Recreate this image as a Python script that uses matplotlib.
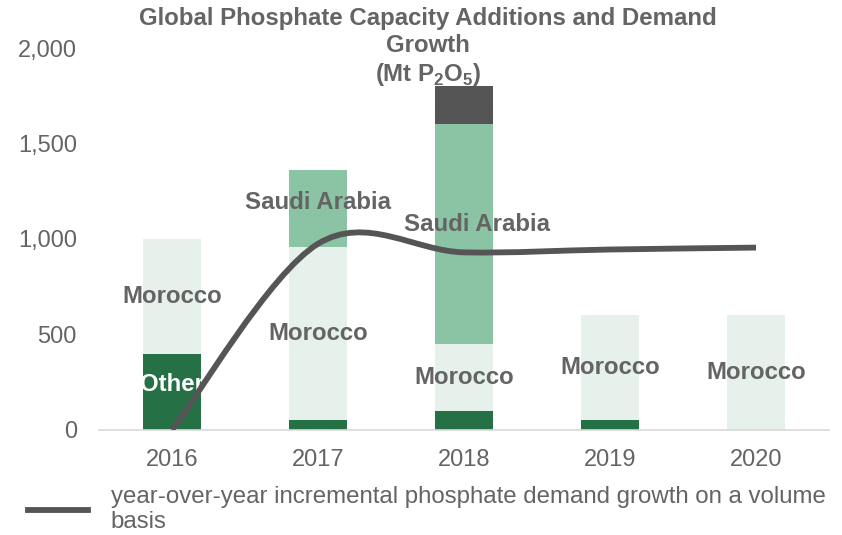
import numpy as np
import matplotlib
matplotlib.use('Agg')
import matplotlib.pyplot as plt
from matplotlib.path import Path
from matplotlib.patches import PathPatch
from matplotlib.lines import Line2D
from matplotlib.ticker import FuncFormatter

plt.rcParams['font.family'] = ['Liberation Sans', 'DejaVu Sans']
plt.rcParams['mathtext.fontset'] = 'custom'
plt.rcParams['mathtext.rm'] = 'Liberation Sans'
plt.rcParams['mathtext.bf'] = 'Liberation Sans:bold'

# datos (Mt P2O5)
years = ['2016', '2017', '2018', '2019', '2020']
other = [400, 50, 100, 50, 0]
morocco = [600, 910, 350, 550, 600]
saudi = [0, 400, 1150, 0, 0]
rest = [0, 0, 200, 0, 0]
demand = [0, 975, 930, 945, 955]

c_dark = '#267046'
c_mid = '#8BC4A4'
c_light = '#E6F1EB'
c_gray = '#555555'
c_text = '#646464'


def smooth_path(xs, ys, k=1/6):
    # curva suavizada tipo Excel (Bezier cubicas por los puntos)
    pts = np.column_stack([xs, ys]).astype(float)
    n = len(pts)
    verts = [pts[0]]
    codes = [Path.MOVETO]
    for i in range(n - 1):
        p0 = pts[max(i - 1, 0)]
        p1 = pts[i]
        p2 = pts[i + 1]
        p3 = pts[min(i + 2, n - 1)]
        verts += [p1 + (p2 - p0) * k, p2 - (p3 - p1) * k, p2]
        codes += [Path.CURVE4] * 3
    return Path(verts, codes)


fig = plt.figure(figsize=(8.42, 5.35), dpi=100)
ax = fig.add_axes([99/842, 1-430/535, 730/842, 382/535])

x = np.arange(len(years))
w = 0.4
bot = np.zeros(len(years))
for vals, col in [(other, c_dark), (morocco, c_light), (saudi, c_mid), (rest, c_gray)]:
    ax.bar(x, vals, w, bottom=bot, color=col, zorder=2)
    bot += np.array(vals)

# etiquetas dentro de las barras
lab = dict(fontsize=17.3, fontweight='bold', color=c_text, ha='center', va='center', zorder=3)
ax.text(x[0], other[0] * 0.6, 'Other', **{**lab, 'color': 'white'})
for i in range(len(years)):
    ax.text(x[i], other[i] + morocco[i] / 2, 'Morocco', **lab)
ax.text(x[1], other[1] + morocco[1] + saudi[1] / 2 + 30, 'Saudi Arabia', **lab)
ax.text(x[2] + 0.09, other[2] + morocco[2] + saudi[2] / 2 + 50, 'Saudi Arabia', **lab)

# linea de demanda
ax.add_patch(PathPatch(smooth_path(x, demand), fill=False, ec=c_gray, lw=4.2,
                       capstyle='butt', zorder=4))

ax.set_xlim(-0.5, len(years) - 0.5)
ax.set_ylim(0, 2000)
ax.set_yticks([0, 500, 1000, 1500, 2000])
ax.yaxis.set_major_formatter(FuncFormatter(lambda v, p: f'{v:,.0f}'))
ax.set_xticks(x)
ax.set_xticklabels(years)
ax.tick_params(axis='both', length=0, labelsize=17, labelcolor=c_text)
ax.tick_params(axis='y', pad=16)
ax.tick_params(axis='x', pad=14)
for s in ['top', 'right', 'left']:
    ax.spines[s].set_visible(False)
ax.spines['bottom'].set_color('#D9D9D9')
ax.spines['bottom'].set_linewidth(1.2)

fig.text(428/842, 1-7/535,
         'Global Phosphate Capacity Additions and Demand\nGrowth\n'
         r'(Mt P$_\mathbf{2}$O$_\mathbf{5}$)',
         ha='center', va='top', fontsize=17.3, fontweight='bold', color=c_text,
         linespacing=1.22)

h = Line2D([], [], color=c_gray, lw=4.2)
fig.legend([h], ['year-over-year incremental phosphate demand growth on a volume\nbasis'],
           loc='upper left', bbox_to_anchor=(28/842, 1-486/535), frameon=False,
           fontsize=17.3, labelcolor=c_text, handlelength=2.5, handletextpad=0.95,
           borderpad=0, borderaxespad=0)

fig.savefig('out.png', dpi=100)
